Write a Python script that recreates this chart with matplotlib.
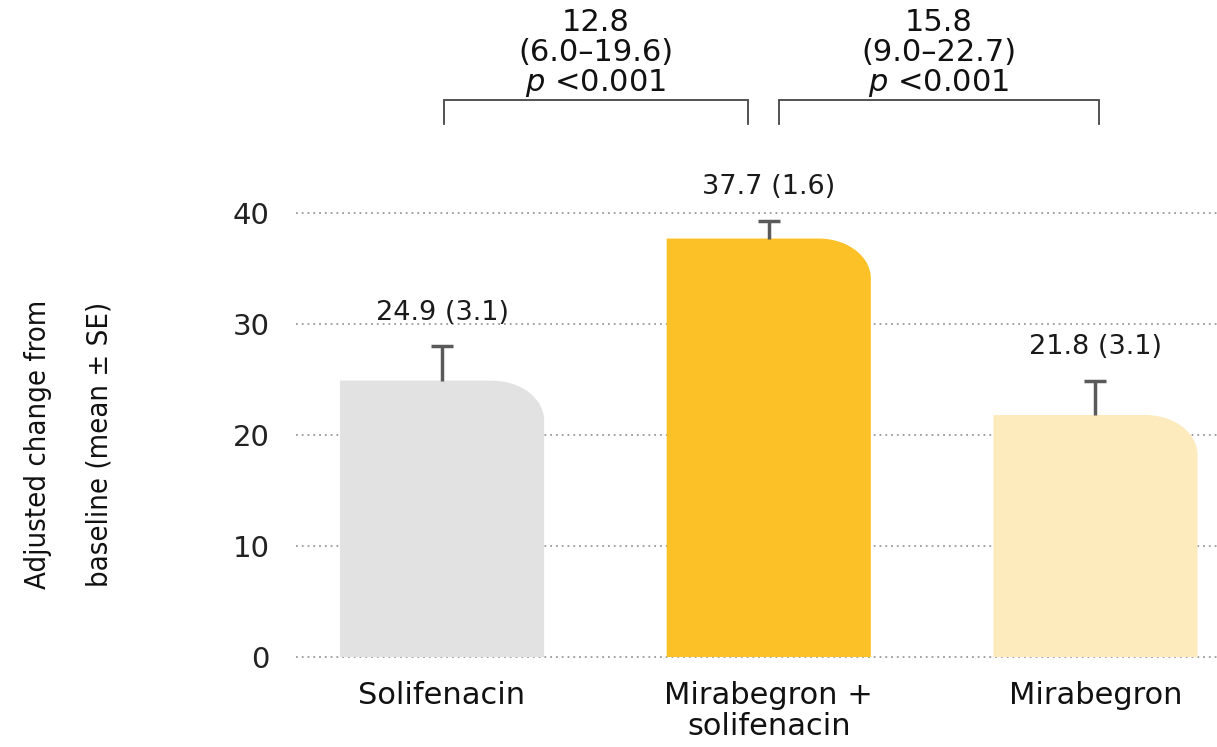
import matplotlib
matplotlib.use("Agg")
import matplotlib.pyplot as plt
from matplotlib.path import Path
from matplotlib.patches import PathPatch
from matplotlib import font_manager as fm

categories = ["Solifenacin", "Mirabegron +\nsolifenacin", "Mirabegron"]
means = [24.9, 37.7, 21.8]
se = [3.1, 1.6, 3.1]
value_labels = ["24.9 (3.1)", "37.7 (1.6)", "21.8 (3.1)"]
colors = ["#E2E2E2", "#FCC126", "#FDEBBD"]
yticks = [0, 10, 20, 30, 40]
comparisons = [
    {"pair": (0, 1), "diff": "12.8", "ci": "(6.0\u201319.6)", "p": "<0.001"},
    {"pair": (1, 2), "diff": "15.8", "ci": "(9.0\u201322.7)", "p": "<0.001"},
]
ylabel_lines = ["Adjusted change from", "baseline (mean \u00b1 SE)"]

# look for a condensed face for the y-axis title
cond = None
for f in fm.fontManager.ttflist:
    st = str(f.stretch).lower()
    if ("condensed" in st or "narrow" in f.name.lower() or "condensed" in f.name.lower()) \
            and "mono" not in f.name.lower() and "serif" not in f.name.lower():
        cond = f
        break

plt.rcParams["font.family"] = ["DejaVu Sans"]
plt.rcParams["mathtext.fontset"] = "dejavusans"

fig = plt.figure(figsize=(12.17, 7.47), dpi=100)
ax = fig.add_axes([296 / 1217, (747 - 657) / 747, 1 - 296 / 1217, (657 - 213) / 747])
ax.set_xlim(-0.447, 2.372)
ax.set_ylim(0, 40)

x = list(range(len(categories)))
width = 0.625
bars = ax.bar(x, means, width=width, color="none", edgecolor="none")

# rounded top-right corners
rx, ry = 0.16, 3.6
k = 0.5523
for b, c in zip(bars, colors):
    x0 = b.get_x(); x1 = x0 + b.get_width(); h = b.get_height()
    verts = [(x0, 0), (x0, h), (x1 - rx, h),
             (x1 - rx + k * rx, h), (x1, h - ry + k * ry), (x1, h - ry),
             (x1, 0), (x0, 0)]
    codes = [Path.MOVETO, Path.LINETO, Path.LINETO,
             Path.CURVE4, Path.CURVE4, Path.CURVE4,
             Path.LINETO, Path.CLOSEPOLY]
    ax.add_patch(PathPatch(Path(verts, codes), facecolor=c, edgecolor="none", zorder=2))

tops = [m + s for m, s in zip(means, se)]
ax.vlines(x, means, tops, color="#5a5a5a", lw=2.5, zorder=3, clip_on=False)
ax.plot(x, tops, linestyle="none", marker="_", markersize=16, markeredgewidth=2.5,
        color="#5a5a5a", zorder=3, clip_on=False)

for xi, t, lab in zip(x, tops, value_labels):
    ax.text(xi, t + 3.0, lab, ha="center", va="center", fontsize=19.5, color="#1a1a1a")

# dotted grid
for t in yticks:
    ax.axhline(t, color="#9a9a9a", lw=1.3, linestyle=(0, (1, 2.2)), zorder=1, clip_on=False)

for sp in ax.spines.values():
    sp.set_visible(False)
ax.set_yticks(yticks)
ax.set_yticklabels([str(t) for t in yticks], fontsize=21, color="#222222")
ax.tick_params(axis="y", length=0, pad=19)
ax.set_xticks(x)
ax.set_xticklabels(categories, fontsize=22, color="#111111", linespacing=1.12)
ax.tick_params(axis="x", length=0, pad=17)

# y-axis title (two lines)
if cond is not None:
    yl_kw = dict(family=cond.name, stretch=cond.stretch, fontsize=21)
else:
    yl_kw = dict(family="DejaVu Sans", fontsize=19)
for xp, line in zip([38, 100], ylabel_lines):
    fig.text(xp / 1217, 1 - 444 / 747, line, rotation=90, ha="center", va="center",
             color="#111111", **yl_kw)

# comparison brackets
for comp in comparisons:
    a, b = comp["pair"]
    xa = a + (0.03 if a == 1 else 0.005)
    xb = b + (-0.065 if b == 1 else 0.01)
    ytop, ybot = 50.2, 48.0
    ax.plot([xa, xa, xb, xb], [ybot, ytop, ytop, ybot], color="#444444", lw=1.3,
            clip_on=False, solid_joinstyle="miter")
    xc = (xa + xb) / 2
    ax.text(xc, 57.2, comp["diff"], ha="center", va="center", fontsize=22, color="#111111", clip_on=False)
    ax.text(xc, 54.5, comp["ci"], ha="center", va="center", fontsize=22, color="#111111", clip_on=False)
    ax.text(xc, 51.7, r"$\mathit{p}$ " + comp["p"], ha="center", va="center", fontsize=22,
            color="#111111", clip_on=False)

fig.savefig("out.png", dpi=100)
